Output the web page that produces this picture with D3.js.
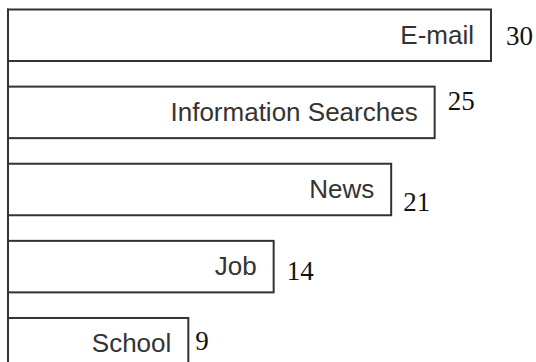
<!DOCTYPE html>
<html>
<head>
<meta charset="utf-8">
<script src="https://cdn.jsdelivr.net/npm/d3@7"></script>
<style>
  body { margin: 0; background: #fff; }
  svg { display: block; }
</style>
</head>
<body>
<div id="chart"></div>
<script>
var svgWidth = 536;
var svgHeight = 362;

// categories, top to bottom
var categories = ["E-mail", "Information Searches", "News", "Job", "School"];
// numbers printed next to each bar
var values = [30, 25, 21, 14, 9];
// bar lengths as drawn in the picture (same units as the labels, the
// original drawing is not strictly proportional)
var drawnLengths = [30, 26.5, 23.8, 16.5, 11.2];

// small per-label nudges for the value labels [dx, dy from bar top]
var valueLabelNudge = [[15, 35], [13, 23], [12, 47], [13, 39], [7, 32]];

var svg = d3.select("#chart")
  .append("svg")
  .attr("width", svgWidth)
  .attr("height", svgHeight);

var xScale = d3.scaleLinear()
  .domain([0, 30])
  .range([8, 491]);

var yScale = d3.scaleBand()
  .domain(categories)
  .range([9.5, 369.5])
  .paddingInner(0.332)
  .paddingOuter(0);

var rows = categories.map(function (c, i) {
  return { name: c, value: values[i], len: drawnLengths[i], i: i };
});

// bars
svg.selectAll("rect.bar")
  .data(rows)
  .enter()
  .append("rect")
  .attr("class", "bar")
  .attr("x", xScale(0))
  .attr("y", d => yScale(d.name))
  .attr("width", d => xScale(d.len) - xScale(0))
  .attr("height", yScale.bandwidth())
  .attr("fill", "#fff")
  .attr("stroke", "#333")
  .attr("stroke-width", 2);

// left axis line
svg.append("line")
  .attr("x1", xScale(0))
  .attr("x2", xScale(0))
  .attr("y1", yScale(categories[0]) - 1)
  .attr("y2", svgHeight)
  .attr("stroke", "#333")
  .attr("stroke-width", 2);

// category names inside the bars
svg.selectAll("text.cat")
  .data(rows)
  .enter()
  .append("text")
  .attr("class", "cat")
  .attr("x", d => xScale(d.len) - 17)
  .attr("y", d => yScale(d.name) + 34)
  .attr("text-anchor", "end")
  .attr("font-family", "'Liberation Sans', Arial, sans-serif")
  .attr("font-size", 26)
  .attr("fill", "#333")
  .text(d => d.name);

// values beside the bars
svg.selectAll("text.val")
  .data(rows)
  .enter()
  .append("text")
  .attr("class", "val")
  .attr("x", d => xScale(d.len) + valueLabelNudge[d.i][0])
  .attr("y", d => yScale(d.name) + valueLabelNudge[d.i][1])
  .attr("font-family", "'Liberation Serif', 'Times New Roman', serif")
  .attr("font-size", 27)
  .attr("fill", "#111")
  .text(d => d.value);
</script>
</body>
</html>
